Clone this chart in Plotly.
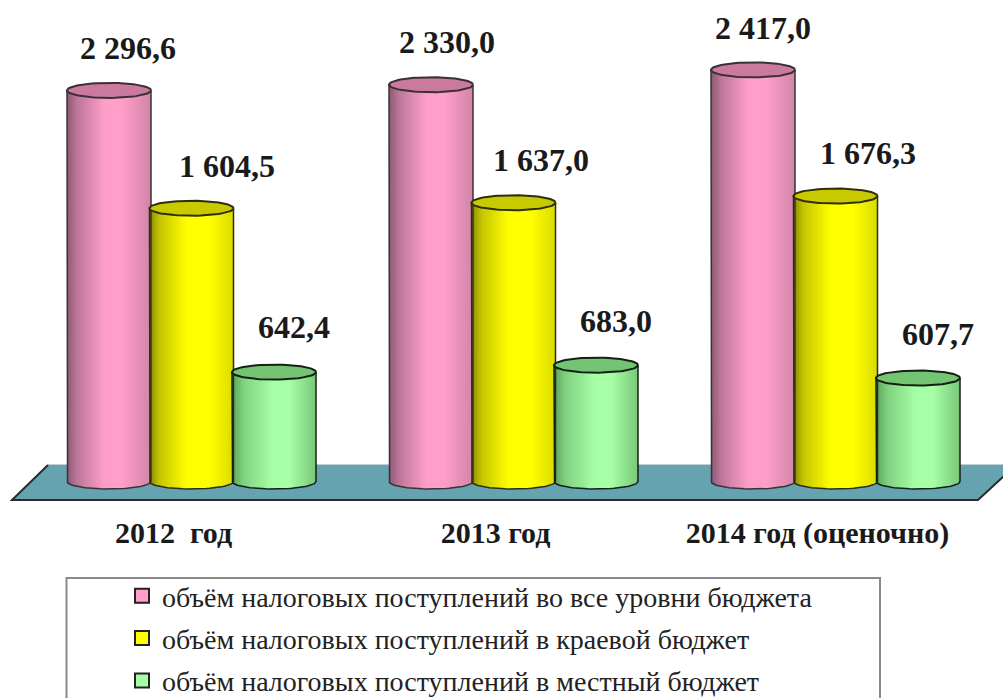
import numpy as np
import plotly.graph_objects as go

groups = ["2012  год", "2013 год", "2014 год (оценочно)"]
series_names = [
    "объём налоговых поступлений во все уровни бюджета",
    "объём налоговых поступлений в краевой бюджет",
    "объём налоговых поступлений в местный бюджет",
]
total_budget = [2296.6, 2330.0, 2417.0]
regional_budget = [1604.5, 1637.0, 1676.3]
local_budget = [642.4, 683.0, 607.7]
total_labels = ["2 296,6", "2 330,0", "2 417,0"]
regional_labels = ["1 604,5", "1 637,0", "1 676,3"]
local_labels = ["642,4", "683,0", "607,7"]

W, H = 1003, 698
PX_PER_X = 322.0
PX_PER_Y = 0.1703
X0_PX = 191.5
Y0_PX = 481.5
PLOT_BOTTOM = 512


def xpx(p):
    return (p - X0_PX) / PX_PER_X


def ypx(p):
    return (Y0_PX - p) / PX_PER_Y


half_w = 42.0 / PX_PER_X
offset = 82.5 / PX_PER_X
depth = 7.5 / PX_PER_Y
N = 42

styles = [
    dict(vals=total_budget, labels=total_labels, off=-offset,
         stops=[(0, "#8c5a76"), (0.12, "#bd7699"), (0.45, "#ff9ec8"), (0.66, "#ff9ec8"), (1, "#d085a8")],
         cap="#c97a9e", swatch="#ff9ec8", edge="#3a3036", dx=[19, 16, 10], dy=[42, 43, 42]),
    dict(vals=regional_budget, labels=regional_labels, off=0.0,
         stops=[(0, "#858500"), (0.12, "#c4c400"), (0.45, "#ffff00"), (0.72, "#ffff00"), (1, "#dcdc00")],
         cap="#c9c900", swatch="#ffff00", edge="#2e2e0c", dx=[35, 27, 32], dy=[42, 43, 43]),
    dict(vals=local_budget, labels=local_labels, off=offset,
         stops=[(0, "#5aa45a"), (0.14, "#80d280"), (0.48, "#a6ffa6"), (0.68, "#a6ffa6"), (1, "#78c878")],
         cap="#74c474", swatch="#a6ffa6", edge="#142014", dx=[20, 20, 20], dy=[45, 44, 44]),
]


def hex_rgb(h):
    return np.array([int(h[i:i + 2], 16) for i in (1, 3, 5)], float)


def ramp(stops, t):
    ts = [s[0] for s in stops]
    cs = np.array([hex_rgb(s[1]) for s in stops])
    c = [np.interp(t, ts, cs[:, k]) for k in range(3)]
    return "rgb(%d,%d,%d)" % tuple(int(round(v)) for v in c)


fig = go.Figure()
u = (np.arange(N) + 0.5) / N * 2 - 1
theta = np.linspace(0, np.pi, 40)

for st, name in zip(styles, series_names):
    xs, ys, bases, cols = [], [], [], []
    for g, v in enumerate(st["vals"]):
        for ui in u:
            d = depth * np.sqrt(max(0.0, 1 - ui * ui))
            xs.append(g + st["off"] + ui * half_w)
            bases.append(-d)
            ys.append(v + d)
            cols.append(ramp(st["stops"], (ui + 1) / 2))
    fig.add_trace(go.Bar(x=xs, y=ys, base=bases, width=2.9 / PX_PER_X,
                         marker=dict(color=cols, line=dict(width=0)),
                         showlegend=False, hoverinfo="skip"))

for st, name in zip(styles, series_names):
    for g, v in enumerate(st["vals"]):
        cx = g + st["off"]
        ox = [cx - half_w] + list(cx - half_w * np.cos(theta)) + [cx + half_w]
        oy = [v] + list(-depth * np.sin(theta)) + [v]
        fig.add_trace(go.Scatter(x=ox, y=oy, mode="lines",
                                 line=dict(color=st["edge"], width=1.5),
                                 showlegend=False, hoverinfo="skip"))
        t = np.linspace(0, 2 * np.pi, 80)
        fig.add_trace(go.Scatter(x=cx + half_w * np.cos(t), y=v + depth * np.sin(t),
                                 mode="lines", fill="toself", fillcolor=st["cap"],
                                 line=dict(color=st["edge"], width=2),
                                 showlegend=False, hoverinfo="skip"))
        fig.add_annotation(x=cx, y=v, xref="x", yref="y", text="<b>" + st["labels"][g] + "</b>",
                           showarrow=False, xshift=st["dx"][g], yshift=st["dy"][g],
                           font=dict(family="Liberation Serif", size=32, color="#1a1a1a"))
    fig.add_trace(go.Scatter(x=[None], y=[None], mode="markers", name=name,
                             legendgroup=name,
                             marker=dict(symbol="square", size=14, color=st["swatch"],
                                         line=dict(color="#222222", width=2))))

platform = [(48, 465), (1016, 465), (978, 500), (12, 500)]
path = "M " + " L ".join(f"{xpx(a)},{ypx(b)}" for a, b in platform) + " Z"
edge = f"M {xpx(48)},{ypx(465)} L {xpx(12)},{ypx(500)} L {xpx(978)},{ypx(500)} L {xpx(1016)},{ypx(465)}"
top_line = f"M {xpx(48)},{ypx(465)} L {xpx(1016)},{ypx(465)}"
shapes = [
    dict(type="path", path=path, xref="x", yref="y", layer="below",
         fillcolor="#66a3b1", line=dict(width=0)),
    dict(type="path", path=top_line, xref="x", yref="y", layer="below",
         line=dict(color="#7f9ea6", width=1)),
    dict(type="path", path=edge, xref="x", yref="y", layer="below",
         line=dict(color="#2b2b2b", width=2)),
    dict(type="rect", xref="paper", yref="paper", layer="below",
         x0=66.5 / W, x1=880 / W,
         y0=(PLOT_BOTTOM - 720) / PLOT_BOTTOM, y1=(PLOT_BOTTOM - 578) / PLOT_BOTTOM,
         fillcolor="white", line=dict(color="#8a8a8a", width=2)),
]

fig.update_layout(
    width=W, height=H,
    margin=dict(l=0, r=0, t=0, b=H - PLOT_BOTTOM, pad=0, autoexpand=False),
    paper_bgcolor="white", plot_bgcolor="white",
    barmode="overlay", bargap=0,
    shapes=shapes,
    xaxis=dict(range=[xpx(0), xpx(W)], showgrid=False, zeroline=False, showline=False,
               tickmode="array", tickvals=[0, 1, 2], ticktext=["<b>%s</b>" % g for g in groups],
               ticks="", ticklabelshift=-18,
               tickfont=dict(family="Liberation Serif", size=30, color="#1a1a1a")),
    yaxis=dict(range=[ypx(PLOT_BOTTOM), ypx(0)], visible=False),
    legend=dict(x=122 / W, xanchor="left", y=(PLOT_BOTTOM - 571) / PLOT_BOTTOM, yanchor="top",
                bgcolor="rgba(0,0,0,0)", borderwidth=0, tracegroupgap=3, maxheight=1000,
                font=dict(family="Liberation Serif", size=28, color="#222222")),
)

fig.write_html("out.html", config={"displayModeBar": False},
               post_script="document.body.style.margin='0';")
